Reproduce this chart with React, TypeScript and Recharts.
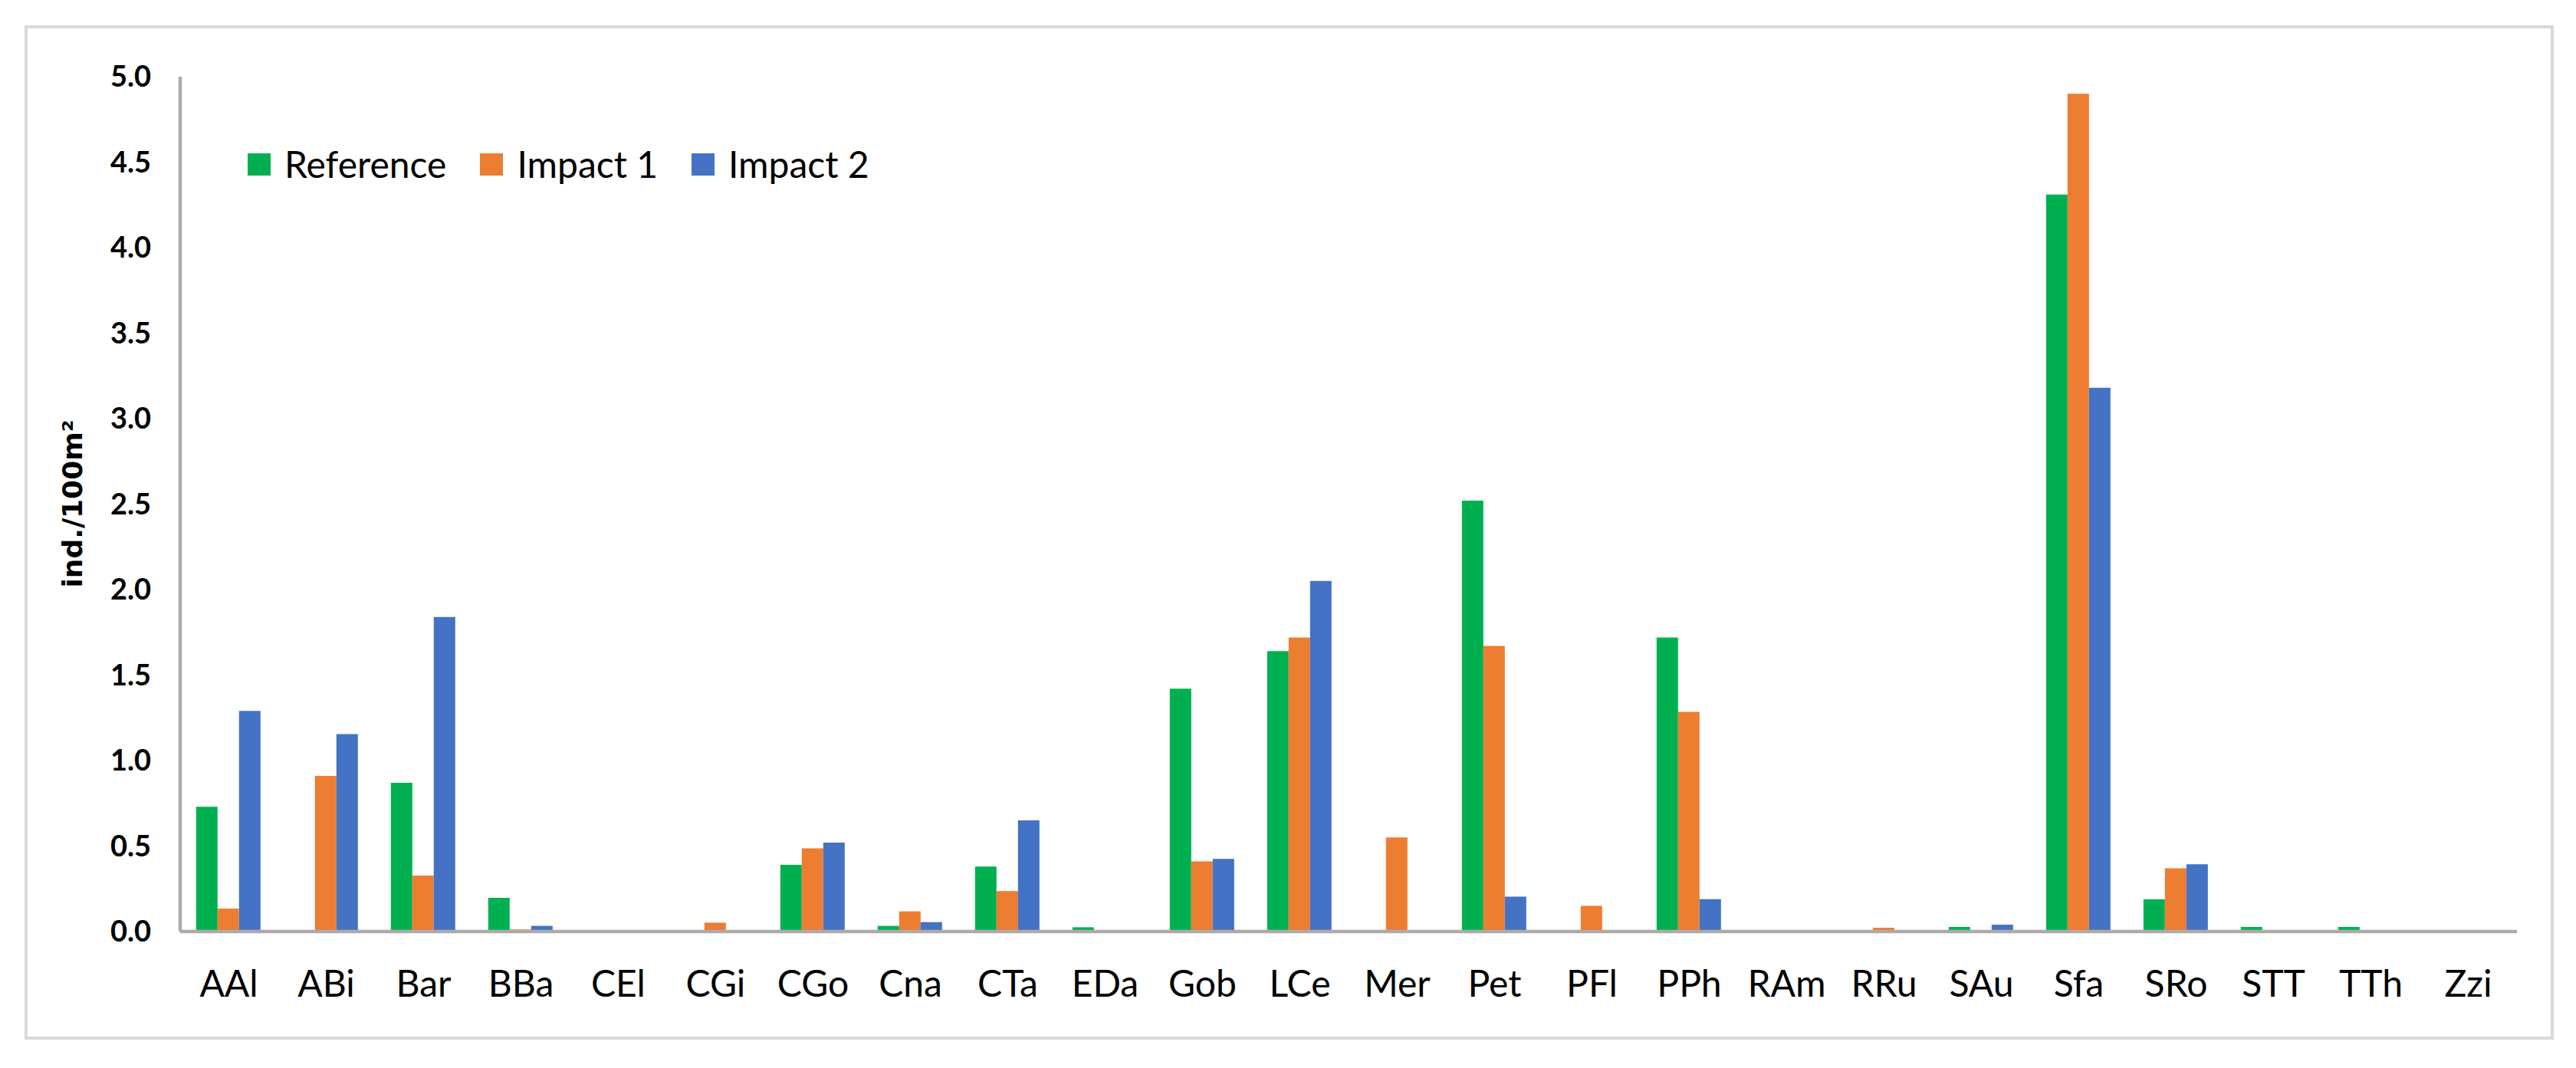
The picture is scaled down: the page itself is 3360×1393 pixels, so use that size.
import { BarChart, Bar, XAxis, YAxis, Legend } from "recharts";

const species = [
  "AAl", "ABi", "Bar", "BBa", "CEl", "CGi", "CGo", "Cna", "CTa", "EDa", "Gob", "LCe",
  "Mer", "Pet", "PFl", "PPh", "RAm", "RRu", "SAu", "Sfa", "SRo", "STT", "TTh", "Zzi",
];

const reference = [
  0.73, 0, 0.87, 0.197, 0, 0, 0.39, 0.033, 0.38, 0.025, 1.42, 1.64,
  0, 2.52, 0, 1.72, 0, 0, 0.027, 4.31, 0.188, 0.027, 0.027, 0,
];
const impact1 = [
  0.134, 0.91, 0.327, 0.012, 0, 0.052, 0.487, 0.118, 0.236, 0, 0.41, 1.72,
  0.55, 1.67, 0.15, 1.285, 0, 0.022, 0, 4.9, 0.37, 0, 0, 0,
];
const impact2 = [
  1.29, 1.155, 1.84, 0.033, 0, 0, 0.52, 0.055, 0.65, 0, 0.425, 2.05,
  0, 0.204, 0, 0.19, 0, 0, 0.04, 3.18, 0.394, 0, 0, 0,
];

const yTicks = [0, 0.5, 1, 1.5, 2, 2.5, 3, 3.5, 4, 4.5, 5];

const series = [
  { key: "Reference", color: "#00B050" },
  { key: "Impact 1", color: "#ED7D31" },
  { key: "Impact 2", color: "#4472C4" },
];

const data = species.map((sp, i) => ({
  sp,
  Reference: reference[i],
  "Impact 1": impact1[i],
  "Impact 2": impact2[i],
}));

const axisGray = "#AEAAAA";

const LegendBox = () => (
  <div style={{ display: "flex", alignItems: "center", fontFamily: "Lato", fontSize: 48, color: "#000", lineHeight: 1 }}>
    {series.map((s) => (
      <div key={s.key} style={{ display: "flex", alignItems: "center", marginRight: 44 }}>
        <span style={{ display: "inline-block", width: 30, height: 29, background: s.color, marginRight: 18 }} />
        <span style={{ whiteSpace: "nowrap" }}>{s.key}</span>
      </div>
    ))}
  </div>
);

export default function App() {
  return (
    <div style={{ position: "relative", width: 3360, height: 1393, background: "#fff" }}>
      <style>{"body{margin:0}"}</style>
      <div
        style={{
          position: "absolute", left: 32, top: 33, width: 3299, height: 1323,
          border: "4.5px solid #D9D9D9", boxSizing: "border-box",
        }}
      />
      <div
        style={{
          position: "absolute", left: 94, top: 657, transform: "translate(-50%, -50%) rotate(-90deg)",
          fontFamily: "DejaVu Sans", fontWeight: "bold", fontSize: 36, whiteSpace: "nowrap", color: "#000",
        }}
      >
        ind./100m²
      </div>
      <div style={{ position: "absolute", left: 0, top: 0 }}>
        <BarChart
          width={3360}
          height={1393}
          data={data}
          margin={{ top: 100, right: 77, bottom: 78, left: 35 }}
          barCategoryGap={20.8}
          barGap={0}
        >
          <XAxis
            dataKey="sp"
            interval={0}
            height={100}
            tickLine={false}
            tickMargin={45}
            axisLine={{ stroke: axisGray, strokeWidth: 4.5 }}
            tick={{ fontFamily: "Lato", fontSize: 48, fill: "#000" }}
          />
          <YAxis
            width={200}
            domain={[0, 5]}
            ticks={yTicks}
            interval={0}
            tickLine={false}
            tickMargin={32}
            tickFormatter={(v: number) => v.toFixed(1)}
            axisLine={{ stroke: axisGray, strokeWidth: 4.5 }}
            tick={{ fontFamily: "Lato", fontWeight: "bold", fontSize: 38, fill: "#000" }}
          />
          <Legend
            layout="horizontal"
            verticalAlign="middle"
            align="center"
            wrapperStyle={{ top: 190, left: 323, width: "auto" }}
            content={LegendBox}
          />
          {series.map((s) => (
            <Bar key={s.key} dataKey={s.key} fill={s.color} isAnimationActive={false} />
          ))}
        </BarChart>
      </div>
    </div>
  );
}
